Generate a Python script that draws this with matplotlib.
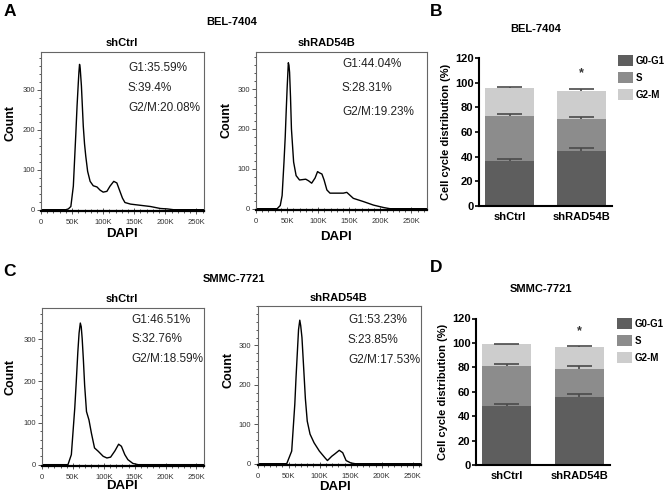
import matplotlib
matplotlib.use("Agg")
import matplotlib.pyplot as plt
from matplotlib.patches import Patch
from matplotlib.ticker import MultipleLocator

plt.rcParams["font.family"] = ["Liberation Sans", "DejaVu Sans"]

W, H = 669, 503

# ---- flow histograms (DAPI in K units, count) ----
A_ctrl_x = [0, 40, 44, 48, 52, 56, 58, 60, 61, 62, 63, 65, 68, 70, 72, 75, 79, 84, 90,
            95, 100, 106, 111, 117, 122, 126, 131, 135, 144, 160, 176, 192, 203, 213, 262]
A_ctrl_y = [0, 0, 2, 8, 59, 190, 260, 318, 345, 364, 355, 310, 209, 165, 134, 96, 71, 60,
            57, 49, 44, 46, 59, 71, 67, 50, 29, 18, 14, 11, 8, 3, 2, 0, 0]

A_rad_x = [0, 34, 39, 42, 45, 47, 48.5, 50, 52, 53, 54, 55.5, 57, 60.5, 64.5, 70, 80,
           84.5, 89.5, 95, 99, 102, 106, 109.5, 114, 119, 140.5, 146, 156.5, 172.5, 189,
           205, 215.5, 275]
A_rad_y = [0, 0, 8, 33, 117, 180, 242, 300, 366, 360, 342, 280, 200, 117, 83, 72, 74,
           70, 64, 77, 93, 90, 87, 72, 47, 39, 39, 41, 26, 18, 9,
           3, 0, 0]

C_ctrl_x = [0, 42, 47.5, 53, 55.5, 58, 60, 62, 63.5, 65, 67, 69, 72, 76, 80, 85, 91, 99,
            105, 111, 118, 124, 128.5, 134, 139, 147, 155.5, 262]
C_ctrl_y = [0, 0, 24, 135, 200, 270, 315, 339, 330, 302, 250, 190, 127, 107, 75, 40, 32,
            20, 16, 18, 33, 49, 44, 24, 12, 3, 0, 0]

C_rad_x = [0, 47, 55, 60, 62, 64.5, 66, 68, 69.5, 71.5, 74.5, 77, 80, 84.5, 91, 99.5,
           108.5, 112.5, 119.5, 124.5, 131.5, 137, 142.5, 150, 157, 262]
C_rad_y = [0, 0, 32, 151, 220, 295, 340, 364, 350, 320, 236, 165, 108, 75, 53, 32,
           15, 8, 19, 25, 34, 28, 8, 2, 0, 0]

A_ctrl_stats = ["G1:35.59%", "S:39.4%", "G2/M:20.08%"]
A_rad_stats = ["G1:44.04%", "S:28.31%", "G2/M:19.23%"]
C_ctrl_stats = ["G1:46.51%", "S:32.76%", "G2/M:18.59%"]
C_rad_stats = ["G1:53.23%", "S:23.85%", "G2/M:17.53%"]

x_ticks = [0, 50, 100, 150, 200, 250]
x_ticklabels = ["0", "50K", "100K", "150K", "200K", "250K"]
y_ticks = [0, 100, 200, 300]

# ---- stacked bars ----
groups = ["shCtrl", "shRAD54B"]
phases = ["G0-G1", "S", "G2-M"]
B_vals = {"G0-G1": [36.2, 44.6], "S": [36.5, 25.7], "G2-M": [22.7, 23.0]}
B_err = {"G0-G1": [1.7, 2.2], "S": [1.6, 1.6], "G2-M": [0.8, 1.8]}
D_vals = {"G0-G1": [48.5, 55.9], "S": [32.3, 22.9], "G2-M": [18.0, 18.0]}
D_err = {"G0-G1": [1.4, 2.0], "S": [1.9, 2.0], "G2-M": [0.5, 0.8]}
star_y = [107.5, 110]

C_PHASE = {"G0-G1": "#5e5e5e", "S": "#8c8c8c", "G2-M": "#cdcdcd"}


def px_axes(fig, left, top, right, bottom):
    return fig.add_axes([left / W, 1 - bottom / H, (right - left) / W, (bottom - top) / H])


def ftext(fig, x, y, s, **kw):
    kw.setdefault("ha", "center")
    kw.setdefault("va", "center")
    fig.text(x / W, 1 - y / H, s, **kw)


def histogram(fig, box, xs, ys, xmax, ymax, stats, stat_pos):
    ax = px_axes(fig, *box)
    ax.plot(xs, ys, color="black", lw=1.0)
    ax.set_xlim(0, xmax)
    ax.set_ylim(-2, ymax)
    ax.set_xticks(x_ticks)
    ax.set_xticklabels(x_ticklabels)
    ax.set_yticks(y_ticks)
    ax.xaxis.set_minor_locator(MultipleLocator(10))
    ax.yaxis.set_minor_locator(MultipleLocator(20))
    ax.tick_params(axis="both", which="both", labelsize=5.5, labelcolor="#333333",
                   color="#555555", width=0.7)
    ax.tick_params(axis="y", which="major", length=3, pad=1.5)
    ax.tick_params(axis="y", which="minor", length=1.5)
    ax.tick_params(axis="x", which="major", direction="inout", length=4, pad=4)
    ax.tick_params(axis="x", which="minor", direction="inout", length=2.5)
    for side in ("top", "right", "left"):
        ax.spines[side].set_color("#666666")
        ax.spines[side].set_linewidth(0.8)
    ax.spines["bottom"].set_color("black")
    ax.spines["bottom"].set_linewidth(1.6)
    x0, y0, dy = stat_pos
    for i, s in enumerate(stats):
        ftext(fig, x0, y0 + i * dy, s, ha="left", fontsize=8.5, color="#222222")
    return ax


def stacked(fig, box, vals, err, star, legend_xy):
    ax = px_axes(fig, *box)
    xs = [0, 1]
    bottom = [0.0, 0.0]
    handles = []
    for ph in phases:
        ax.bar(xs, vals[ph], width=0.68, bottom=bottom, color=C_PHASE[ph], lw=0)
        tops = [b + v for b, v in zip(bottom, vals[ph])]
        ends = [t + e for t, e in zip(tops, err[ph])]
        ax.vlines(xs, tops, ends, color="#4a4a4a", lw=1.2)
        ax.hlines(ends, [x - 0.17 for x in xs], [x + 0.17 for x in xs],
                  color="#4a4a4a", lw=1.2)
        bottom = tops
        handles.append(Patch(facecolor=C_PHASE[ph], edgecolor="none", label=ph))
    ax.text(1, star, "*", ha="center", va="center", fontsize=9, fontweight="bold",
            color="#333333")
    ax.set_xlim(-0.424, 1.424)
    ax.set_ylim(0, 120)
    ax.set_yticks(range(0, 121, 20))
    ax.set_xticks(xs)
    ax.set_xticklabels(groups, fontweight="bold", fontsize=8)
    for lab in ax.get_yticklabels():
        lab.set_fontweight("bold")
        lab.set_fontsize(8)
    ax.tick_params(axis="y", length=3, width=1.2, pad=1)
    ax.tick_params(axis="x", length=0, pad=4)
    for side in ("top", "right"):
        ax.spines[side].set_visible(False)
    for side in ("left", "bottom"):
        ax.spines[side].set_linewidth(1.5)
    ax.set_ylabel("Cell cycle distribution (%)", fontsize=8, fontweight="bold",
                  labelpad=3)
    fig.legend(handles=handles, loc="upper left",
               bbox_to_anchor=(legend_xy[0] / W, 1 - legend_xy[1] / H),
               frameon=False, borderpad=0, borderaxespad=0,
               handlelength=1.55, handleheight=1.34, labelspacing=0.64,
               handletextpad=0.3, prop={"weight": "bold", "size": 7})
    return ax


fig = plt.figure(figsize=(W / 100, H / 100), dpi=100)

# panel letters and row titles
ftext(fig, 10, 12, "A", fontsize=12.5, fontweight="bold")
ftext(fig, 436, 11, "B", fontsize=12.5, fontweight="bold")
ftext(fig, 10, 271, "C", fontsize=12.5, fontweight="bold")
ftext(fig, 436, 268, "D", fontsize=12.5, fontweight="bold")
ftext(fig, 232, 22, "BEL-7404", fontsize=8, fontweight="bold")
ftext(fig, 234, 279, "SMMC-7721", fontsize=8, fontweight="bold")

# row A
histogram(fig, (41, 52, 204, 210.5), A_ctrl_x, A_ctrl_y, 262.144, 395,
          A_ctrl_stats, (128, 68, 20))
histogram(fig, (256, 52, 427, 209.5), A_rad_x, A_rad_y, 275, 393,
          A_rad_stats, (342, 64, 24))
ftext(fig, 122, 43, "shCtrl", fontsize=8, fontweight="bold")
ftext(fig, 326, 43, "shRAD54B", fontsize=8, fontweight="bold")
ftext(fig, 10, 123, "Count", fontsize=9, fontweight="bold", rotation=90)
ftext(fig, 227, 120, "Count", fontsize=9, fontweight="bold", rotation=90)
ftext(fig, 122, 234, "DAPI", fontsize=9.5, fontweight="bold")
ftext(fig, 336, 237, "DAPI", fontsize=9.5, fontweight="bold")

# row C
histogram(fig, (42, 308, 204, 465.5), C_ctrl_x, C_ctrl_y, 262.144, 375,
          C_ctrl_stats, (131, 320, 19.5))
histogram(fig, (257.5, 306, 420.5, 464.5), C_rad_x, C_rad_y, 262.144, 400,
          C_rad_stats, (348, 320, 20))
ftext(fig, 122, 299, "shCtrl", fontsize=8, fontweight="bold")
ftext(fig, 338, 298, "shRAD54B", fontsize=8, fontweight="bold")
ftext(fig, 11, 377, "Count", fontsize=9, fontweight="bold", rotation=90)
ftext(fig, 229, 370, "Count", fontsize=9, fontweight="bold", rotation=90)
ftext(fig, 122, 486, "DAPI", fontsize=9.5, fontweight="bold")
ftext(fig, 335, 487, "DAPI", fontsize=9.5, fontweight="bold")

# bar panels
stacked(fig, (479, 58, 612, 206), B_vals, B_err, star_y[0], (618, 55))
ftext(fig, 536, 29, "BEL-7404", fontsize=8, fontweight="bold")
stacked(fig, (476, 318.5, 610, 465), D_vals, D_err, star_y[1], (617, 318))
ftext(fig, 541, 289, "SMMC-7721", fontsize=8, fontweight="bold")

fig.savefig("out.png", dpi=100)
